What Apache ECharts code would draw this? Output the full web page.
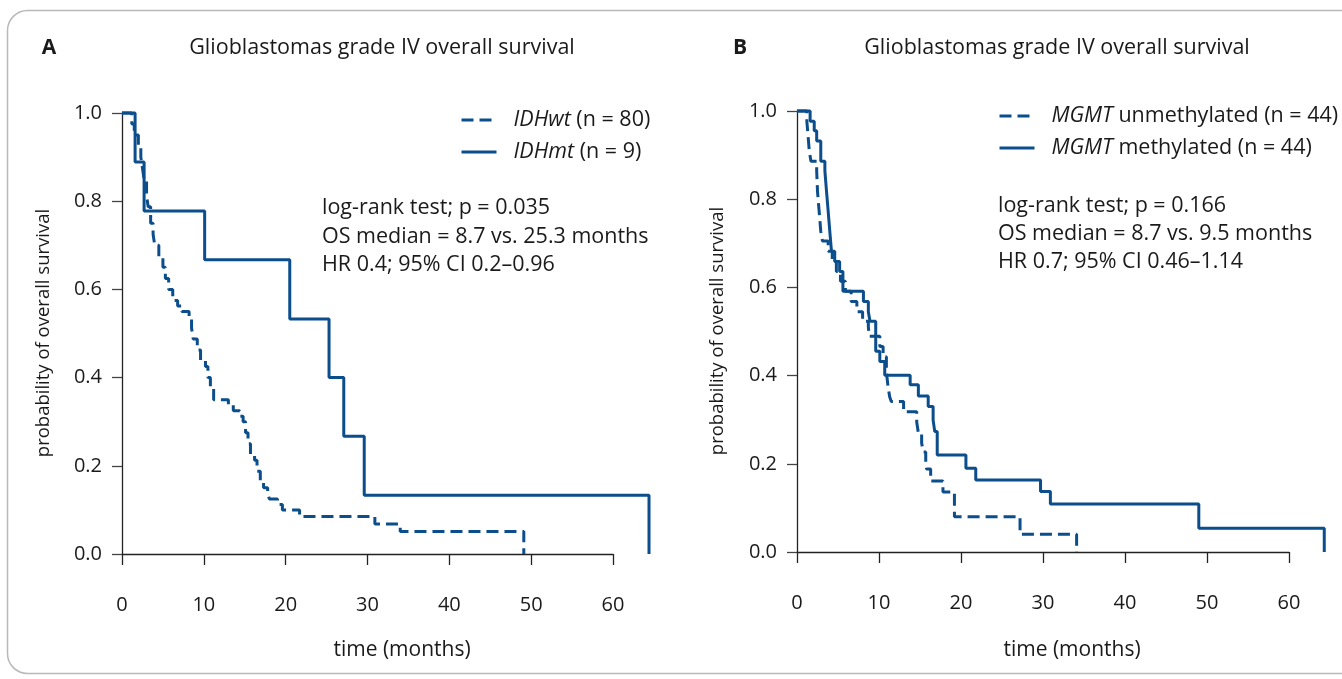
<!DOCTYPE html>
<html><head><meta charset="utf-8">
<script src="https://cdn.jsdelivr.net/npm/echarts@6/dist/echarts.min.js"></script>
<style>html,body{margin:0;padding:0;background:#fff;} #c{width:1342px;height:679px;}</style>
</head><body><div id="c"></div>
<script>
// ---------- data ----------
const xTickValues = [0, 10, 20, 30, 40, 50, 60];
const xTickLabels = ['0', '10', '20', '30', '40', '50', '60'];
const yTickValues = [0, 0.2, 0.4, 0.6, 0.8, 1.0];
const yTickLabels = ['0.0', '0.2', '0.4', '0.6', '0.8', '1.0'];

// Panel A
const monthsIDHwt = [0, 1.2, 1.5, 2.0, 2.3, 2.5, 2.7, 3.0, 3.2, 3.5, 3.8, 4.0, 4.5, 5.0, 5.3, 5.7, 6.2, 6.8, 7.3, 8.2, 8.5, 8.7, 9.2, 9.6, 10.2, 10.5, 10.8, 11.2, 13.0, 13.6, 14.4, 14.8, 15.1, 15.4, 15.7, 16.2, 16.5, 16.9, 17.3, 17.8, 18.0, 19.0, 19.6, 21.7, 30.9, 34.0, 49.1];
const survIDHwt   = [1.0, 0.975, 0.95, 0.925, 0.9, 0.875, 0.85, 0.8125, 0.7875, 0.75, 0.725, 0.70, 0.675, 0.65, 0.625, 0.60, 0.575, 0.5625, 0.55, 0.5375, 0.5125, 0.4875, 0.4625, 0.4375, 0.425, 0.40, 0.375, 0.35, 0.3375, 0.325, 0.3125, 0.30, 0.275, 0.25, 0.225, 0.2125, 0.1875, 0.1625, 0.15, 0.1375, 0.125, 0.1125, 0.10, 0.085, 0.068, 0.051, 0.0];
const monthsIDHmt = [0, 1.6, 2.7, 10.1, 20.5, 25.3, 27.1, 29.6, 64.4];
const survIDHmt   = [1.0, 0.889, 0.778, 0.667, 0.533, 0.400, 0.267, 0.133, 0.0];

// Panel B
const monthsUnmeth = [0, 1.2, 1.3, 1.4, 1.5, 1.7, 2.4, 2.45, 2.5, 2.6, 2.7, 2.8, 2.9, 3.1, 3.8, 4.3, 4.8, 5.3, 5.9, 6.6, 7.3, 8.0, 8.7, 8.8, 10.1, 10.5, 10.9, 11.1, 11.3, 11.5, 13.0, 14.6, 14.8, 15.2, 15.4, 15.7, 15.8, 16.3, 17.8, 19.2, 27.2, 34.1];
const survUnmeth   = [1.0, 0.977, 0.955, 0.932, 0.909, 0.886, 0.864, 0.841, 0.818, 0.795, 0.773, 0.75, 0.727, 0.705, 0.682, 0.659, 0.636, 0.614, 0.591, 0.568, 0.545, 0.523, 0.511, 0.489, 0.466, 0.443, 0.409, 0.375, 0.352, 0.341, 0.318, 0.295, 0.27, 0.247, 0.227, 0.20, 0.188, 0.161, 0.136, 0.08, 0.04, 0.0];
const monthsMeth = [0, 1.6, 2.1, 2.4, 2.9, 3.4, 3.6, 3.8, 4.0, 4.2, 4.6, 5.2, 5.6, 8.1, 8.7, 8.9, 9.6, 10.1, 10.7, 13.8, 14.8, 16.0, 16.6, 16.8, 17.1, 20.6, 21.8, 29.7, 30.9, 49.0, 64.3];
const survMeth   = [1.0, 0.977, 0.955, 0.932, 0.886, 0.864, 0.818, 0.773, 0.727, 0.682, 0.659, 0.636, 0.591, 0.568, 0.545, 0.523, 0.455, 0.432, 0.401, 0.379, 0.354, 0.330, 0.299, 0.273, 0.220, 0.190, 0.163, 0.137, 0.109, 0.054, 0.0];

const seriesNamesA = ['IDHwt', 'IDHmt'];
const seriesCountsA = [80, 9];
const seriesNamesB = ['MGMT unmethylated', 'MGMT methylated'];
const seriesCountsB = [44, 44];

const panelTitles = ['Glioblastomas grade IV overall survival', 'Glioblastomas grade IV overall survival'];
const panelLetters = ['A', 'B'];
const statsA = ['log-rank test; p = 0.035', 'OS median = 8.7 vs. 25.3 months', 'HR 0.4; 95% CI 0.2–0.96'];
const statsB = ['log-rank test; p = 0.166', 'OS median = 8.7 vs. 9.5 months', 'HR 0.7; 95% CI 0.46–1.14'];
const xAxisTitle = 'time (months)';
const yAxisTitle = 'probability of overall survival';

// ---------- styling ----------
const FONT = '"Open Sans", "Noto Sans", sans-serif';
const BLUE = '#0b4e8b';
const TXT = '#1a1a1a';
const AX = '#222';
const DASH = [12, 6];
const XMAX_VIS = 60, XMAX_DATA = 66;

function pairs(t, s) { return t.map((v, i) => [v, s[i]]); }
function xLab(v) { const i = xTickValues.indexOf(Math.round(v)); return i >= 0 ? xTickLabels[i] : ''; }
function yLab(v) { const i = Math.round(v * 5); return yTickLabels[i] !== undefined ? yTickLabels[i] : ''; }

function xAxisVisible(gi) {
  return {
    gridIndex: gi, type: 'value', min: 0, max: XMAX_VIS, interval: 10, offset: 18,
    axisLine: { show: true, lineStyle: { color: AX, width: 1.3 } },
    axisTick: { show: true, length: 11, lineStyle: { color: AX, width: 1.3 } },
    axisLabel: { margin: 23, fontSize: 20, color: TXT, fontFamily: FONT, formatter: xLab },
    splitLine: { show: false }
  };
}
function xAxisHidden(gi) {
  return { gridIndex: gi, type: 'value', min: 0, max: XMAX_DATA, show: false, splitLine: { show: false } };
}
function yAxisVisible(gi) {
  return {
    gridIndex: gi, type: 'value', min: 0, max: 1, interval: 0.2,
    axisLine: { show: true, lineStyle: { color: AX, width: 1.3 } },
    axisTick: { show: true, length: 10, lineStyle: { color: '#444', width: 1.3 } },
    axisLabel: { margin: 20, fontSize: 20, color: TXT, fontFamily: FONT, formatter: yLab },
    splitLine: { show: false }
  };
}
function yAxisHidden(gi) {
  return { gridIndex: gi, type: 'value', min: 0, max: 1, show: false, splitLine: { show: false } };
}
function km(name, t, s, gi, dashed) {
  return {
    name: name, type: 'line', step: 'end', xAxisIndex: gi, yAxisIndex: gi,
    data: pairs(t, s), symbol: 'none', clip: false, animation: false,
    lineStyle: { color: BLUE, width: 3, type: dashed ? DASH : 'solid' },
    itemStyle: { color: BLUE }
  };
}
function legendCfg(names, counts, left, top) {
  return {
    left: left, top: top, orient: 'vertical', itemWidth: 35, itemHeight: 22, itemGap: 10,
    selectedMode: false,
    data: names.map(n => ({ name: n })),
    itemStyle: { color: 'rgba(0,0,0,0)', borderColor: 'rgba(0,0,0,0)', borderWidth: 0, opacity: 0 },
    lineStyle: { type: 'inherit', width: 3 },
    formatter: function (n) {
      const i = names.indexOf(n);
      const parts = n.split(' ');
      const it = parts[0];
      const rest = parts.slice(1).join(' ');
      return '{i|' + it + '}{r|' + (rest ? ' ' + rest : '') + ' (n = ' + counts[i] + ')}';
    },
    textStyle: {
      fontSize: 21.5, fontFamily: FONT, color: TXT, lineHeight: 22,
      rich: {
        i: { fontStyle: 'italic', fontSize: 21.5, fontFamily: FONT, color: TXT, padding: [0, 0, 0, 12], lineHeight: 22 },
        r: { fontSize: 21.5, fontFamily: FONT, color: TXT, lineHeight: 22 }
      }
    }
  };
}
function txt(x, y, s, opts) {
  return Object.assign({
    type: 'text', x: x, y: y, silent: true,
    style: Object.assign({ text: s, fontSize: 21.5, fontFamily: FONT, fill: TXT, align: 'left', verticalAlign: 'middle' }, (opts && opts.style) || {})
  }, (opts && opts.el) || {});
}

const graphics = [
  { type: 'rect', silent: true, shape: { x: 7.5, y: 10.5, width: 1500, height: 663, r: 20 }, style: { fill: 'none', stroke: '#b9b9b9', lineWidth: 1.5 } },
  txt(49, 48, panelLetters[0], { style: { fontWeight: 'bold', fontSize: 21, align: 'center' } }),
  txt(382, 48, panelTitles[0], { style: { fontSize: 21.5, align: 'center' } }),
  txt(740, 48, panelLetters[1], { style: { fontWeight: 'bold', fontSize: 21, align: 'center' } }),
  txt(1057, 48, panelTitles[1], { style: { fontSize: 21.5, align: 'center' } }),
  txt(402, 650, xAxisTitle, { style: { fontSize: 21, align: 'center' } }),
  txt(1072, 650, xAxisTitle, { style: { fontSize: 21, align: 'center' } }),
  txt(44, 333, yAxisTitle, { style: { fontSize: 18.5, align: 'center' }, el: { rotation: Math.PI / 2 } }),
  txt(718, 331, yAxisTitle, { style: { fontSize: 18.5, align: 'center' }, el: { rotation: Math.PI / 2 } })
];
statsA.forEach((s, i) => graphics.push(txt(322, 208 + i * 28.5, s)));
statsB.forEach((s, i) => graphics.push(txt(998, 206 + i * 27.8, s)));

const chart = echarts.init(document.getElementById('c'), null, { renderer: 'canvas' });
chart.setOption({
  animation: false,
  backgroundColor: '#fff',
  grid: [
    { left: 122, top: 113, width: 491 * XMAX_DATA / XMAX_VIS, height: 441 },
    { left: 122, top: 113, width: 491, height: 441 },
    { left: 797, top: 111, width: 492 * XMAX_DATA / XMAX_VIS, height: 441 },
    { left: 797, top: 111, width: 492, height: 441 }
  ],
  xAxis: [xAxisHidden(0), xAxisVisible(1), xAxisHidden(2), xAxisVisible(3)],
  yAxis: [yAxisVisible(0), yAxisHidden(1), yAxisVisible(2), yAxisHidden(3)],
  legend: [
    legendCfg(seriesNamesA, seriesCountsA, 455, 104),
    legendCfg(seriesNamesB, seriesCountsB, 993, 100)
  ],
  series: [
    km(seriesNamesA[0], monthsIDHwt, survIDHwt, 0, true),
    km(seriesNamesA[1], monthsIDHmt, survIDHmt, 0, false),
    km(seriesNamesB[0], monthsUnmeth, survUnmeth, 2, true),
    km(seriesNamesB[1], monthsMeth, survMeth, 2, false)
  ],
  graphic: graphics
});
</script>
</body></html>
